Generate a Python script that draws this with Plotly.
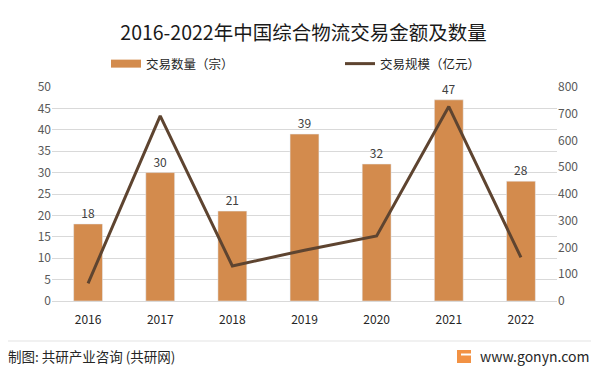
import plotly.graph_objects as go

years = ["2016", "2017", "2018", "2019", "2020", "2021", "2022"]
counts = [18, 30, 21, 39, 32, 47, 28]
scale = [66, 692, 131, 190, 243, 727, 163]

bar_color = "#D38B4D"
line_color = "#5E4430"
font_cjk = "Noto Sans CJK SC"

# page body has an 8px default margin; size the figure so it fills the window
OFF = 8
W, H = 599 - OFF, 375 - OFF
ML, MR, MT = 52 - OFF, 42, 87 - OFF
PH = 214
MB = H - MT - PH
PW = W - ML - MR


def px_x(x):
    return (x - OFF - ML) / PW


def px_y(y):
    return (MT + PH - (y - OFF)) / PH


fig = go.Figure()
fig.add_trace(go.Bar(
    x=years, y=counts, name="交易数量（宗）", showlegend=False,
    marker_color=bar_color, width=0.4,
    text=[str(v) for v in counts], textposition="outside",
    textfont=dict(size=12, color="#404040", family=font_cjk),
    cliponaxis=False,
))
# legend entry drawn as a wide swatch like the original
fig.add_trace(go.Scatter(
    x=[years[0]], y=[None], name="交易数量（宗）", mode="lines",
    line=dict(color=bar_color, width=8), showlegend=True, hoverinfo="skip",
))
fig.add_trace(go.Scatter(
    x=years, y=scale, name="交易规模（亿元）", yaxis="y2",
    mode="lines", line=dict(color=line_color, width=3),
))

fig.update_layout(
    width=W, height=H,
    margin=dict(l=ML, r=MR, t=MT, b=MB, autoexpand=False),
    paper_bgcolor="white", plot_bgcolor="white",
    font=dict(family=font_cjk, size=12, color="#595959"),
    title=dict(text="2016-2022年中国综合物流交易金额及数量", x=0.5, xanchor="center",
               xref="container", yref="container",
               y=1 - (33 - OFF) / H, yanchor="middle",
               font=dict(size=19.5, color="#1a1a1a", family=font_cjk)),
    showlegend=True,
    legend=dict(orientation="h", xref="container", yref="container",
                x=(106 - OFF) / W, xanchor="left", y=1 - (64 - OFF) / H, yanchor="middle",
                font=dict(size=12.5, color="#262626"), entrywidth=189, traceorder="normal",
                bgcolor="rgba(0,0,0,0)"),
    xaxis=dict(type="category", showgrid=False, showline=True, linecolor="#d9d9d9",
               ticks="", ticklabelstandoff=8, tickfont=dict(size=12, color="#262626")),
    yaxis=dict(range=[0, 50], dtick=5, showgrid=True, gridcolor="#d9d9d9", zeroline=False,
               ticks="", automargin=False, tickfont=dict(size=12, color="#595959")),
    yaxis2=dict(range=[0, 800], dtick=100, overlaying="y", side="right", showgrid=False,
                zeroline=False, ticks="", automargin=False, tickfont=dict(size=12, color="#595959")),
    bargap=0.6,
)

fig.add_shape(type="line", xref="paper", yref="paper", x0=px_x(8), x1=px_x(591),
              y0=px_y(341), y1=px_y(341), line=dict(color="#e3e3e3", width=1))
fig.add_annotation(text="制图: 共研产业咨询 (共研网)", xref="paper", yref="paper",
                   x=px_x(6), y=px_y(356), xanchor="left", yanchor="middle", showarrow=False,
                   font=dict(size=13.5, color="#262626", family=font_cjk))
fig.add_annotation(text="www.gonyn.com", xref="paper", yref="paper", x=px_x(591), y=px_y(356),
                   xanchor="right", yanchor="middle", showarrow=False,
                   font=dict(size=14, color="#262626", family=font_cjk))
fig.add_shape(type="rect", xref="paper", yref="paper", x0=px_x(457), x1=px_x(471),
              y0=px_y(350), y1=px_y(363), fillcolor="#F29244", line=dict(width=0))
fig.add_shape(type="rect", xref="paper", yref="paper", x0=px_x(461), x1=px_x(471),
              y0=px_y(353.5), y1=px_y(355.5), fillcolor="white", line=dict(width=0))

fig.write_html("out.html")
